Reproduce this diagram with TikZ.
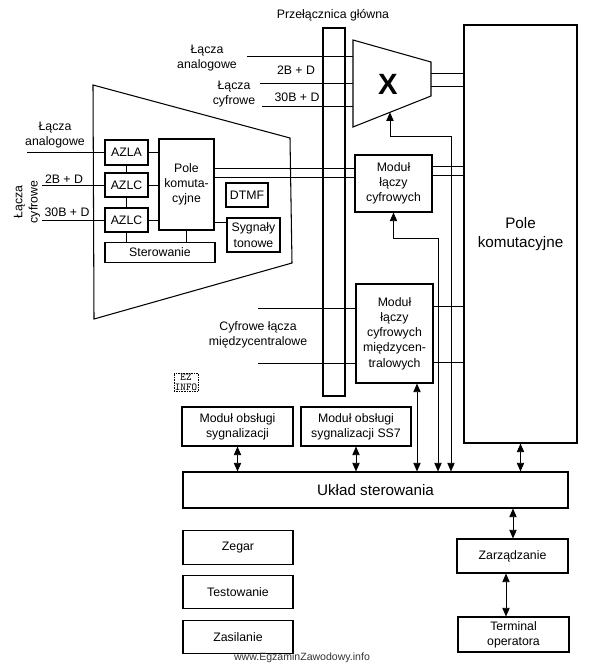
\documentclass[tikz,border=0pt]{standalone}
\usepackage{fontspec}
\setmainfont{Liberation Sans}
\usetikzlibrary{arrows.meta,calc}

\begin{document}
\begin{tikzpicture}[x=0.03cm,y=-0.03cm,
    box/.style={draw,line width=0.9pt,align=center,inner sep=1pt,font=\fontsize{10.5}{13}\selectfont},
    lbl/.style={align=center,inner sep=0pt,font=\fontsize{10.5}{13}\selectfont},
    wire/.style={line width=0.8pt},
    ctrl/.style={<->,line width=0.8pt,>={Triangle[length=2.6mm,width=2.2mm]}}]
    \useasboundingbox (0,0) rectangle (590,665);
    %koncentrator
    \draw[line width=0.9pt] (93,85) -- (290,138) -- (292,263) -- (94,319) -- cycle;
    \node[box,minimum width=1.29cm,minimum height=0.75cm] (azla) at (126.5,152.5) {AZLA};
    \node[box,minimum width=1.29cm,minimum height=0.72cm] (azlc1) at (126.5,185) {AZLC};
    \node[box,minimum width=1.29cm,minimum height=0.72cm] (azlc2) at (126.5,220) {AZLC};
    \node[box,minimum width=1.65cm,minimum height=2.73cm] (pole) at (186.5,184.5) {Pole\\komuta-\\cyjne};
    \node[box,minimum width=1.26cm,minimum height=0.72cm] (dtmf) at (247,195) {DTMF};
    \node[box,minimum width=1.59cm,minimum height=1.02cm] (tony) at (253.5,235) {Sygnały\\tonowe};
    \node[box,minimum width=3.3cm,minimum height=0.6cm] (ster) at (160,252.5) {Sterowanie};
    \draw[wire] (azla) -- (azlc1) -- (azlc2) -- (azlc2 |- ster.north);
    \draw[wire] (pole) -- (pole |- ster.north);
    \foreach \n in {azla,azlc1,azlc2}
      \draw[wire] (\n) -- (\n -| pole.west);
    \draw[line width=0.5pt,double,double distance=1.2pt] (dtmf) -- (dtmf -| pole.east);
    \coordinate (tony in) at ([yshift=0.39cm]tony.west);
    \draw[wire] (tony in) -- (tony in -| pole.east);
    \coordinate (ana1) at (27,152.5);
    \coordinate (isdn1) at (42,185);
    \coordinate (pcm1) at (42,220);
    \draw[wire] (ana1) -- (azla);
    \draw[wire] (isdn1) -- (azlc1);
    \draw[wire] (pcm1) -- (azlc2);
    \node[lbl] at (55,135) {Łącza\\analogowe};
    \node[lbl] at (64,179) {2B + D};
    \node[lbl] at (67,212) {30B + D};
    \node[lbl,rotate=90] at (27,202) {Łącza\\cyfrowe};
    %przelacznica i X
    \node[draw,line width=0.9pt,minimum width=0.66cm,minimum height=11.04cm,inner sep=0pt] (przel) at (334,212) {};
    \node[lbl] at (333,15) {Przełącznica główna};
    \draw[line width=0.9pt] (353,40) coordinate (x tl) -- (431,62) coordinate (x tr)
      -- (431,96) coordinate (x br) -- (353,127) coordinate (x bl) -- cycle;
    \node[font=\fontsize{25}{25}\selectfont\bfseries] (xsw) at (388,84) {X};
    \coordinate (ana2) at (247,56);
    \coordinate (isdn2) at (260,83);
    \coordinate (pcm2) at (262,106);
    \foreach \c in {ana2,isdn2,pcm2}
      \draw[wire] (\c) -- (\c -| x tl);
    \node[lbl] at (207,58) {Łącza\\analogowe};
    \node[lbl] at (296,70) {2B + D};
    \node[lbl] at (234,94) {Łącza\\cyfrowe};
    \node[lbl] at (297,97) {30B + D};
    %moduly i pole komutacyjne
    \node[box,minimum width=2.31cm,minimum height=1.71cm] (modc) at (393.5,183.5) {Moduł\\łączy\\cyfrowych};
    \node[box,minimum width=2.31cm,minimum height=2.97cm] (modm) at (394.5,333.5) {Moduł\\łączy\\cyfrowych\\międzycen-\\tralowych};
    \node[box,minimum width=3.39cm,minimum height=12.54cm,font=\fontsize{13}{15.5}\selectfont] (polebig) at (520.5,234) {Pole\\komutacyjne};
    \node[lbl] at (258,335) {Cyfrowe łącza\\międzycentralowe};
    \coordinate (pc1) at (0,168);
    \coordinate (pc2) at (0,177);
    \coordinate (xo1) at (431,73);
    \coordinate (xo2) at (431,86);
    \coordinate (co1) at (0,166);
    \coordinate (co2) at (0,175);
    \coordinate (mo1) at (0,306);
    \coordinate (mo2) at (0,362);
    \coordinate (mi1) at (258,308);
    \coordinate (mi2) at (258,363);
    \foreach \c in {pc1,pc2}
      \draw[wire] (\c -| pole.east) -- (\c -| modc.west);
    \foreach \c in {xo1,xo2}
      \draw[wire] (\c) -- (\c -| polebig.west);
    \foreach \c in {co1,co2}
      \draw[wire] (\c -| modc.east) -- (\c -| polebig.west);
    \foreach \c in {mo1,mo2}
      \draw[wire] (\c -| modm.east) -- (\c -| polebig.west);
    \foreach \c in {mi1,mi2}
      \draw[wire] (\c) -- (\c -| modm.west);
    %sterowanie
    \node[box,minimum width=3.33cm,minimum height=1.17cm] (mos) at (237.5,426.5) {Moduł obsługi\\sygnalizacji};
    \node[box,minimum width=3.3cm,minimum height=1.17cm] (mss7) at (356,426.5) {Moduł obsługi\\sygnalizacji SS7};
    \node[box,minimum width=11.55cm,minimum height=1.08cm,font=\fontsize{13}{15.5}\selectfont] (uklad) at (375.5,490) {Układ sterowania};
    \foreach \name/\txt/\y in {zegar/Zegar/547.5,test/Testowanie/592,zasil/Zasilanie/637}
      \node[box,minimum width=3.3cm,minimum height=1.01cm] (\name) at (238,\y) {\txt};
    \node[box,minimum width=3.33cm,minimum height=1.02cm] (zarz) at (512.5,556) {Zarządzanie};
    \node[box,minimum width=3.33cm,minimum height=1.05cm] (term) at (513.5,634.5) {Terminal\\operatora};
    \coordinate (xc) at ($(x bl)!0.474!(x br)$);
    \coordinate (xb) at (451,136);
    \coordinate (cb) at (438,238);
    \coordinate (mc) at (417,0);
    \coordinate (zu) at (513,0);
    \coordinate (zt) at (506,0);
    \draw[ctrl] (xc) |- (xb) -- (xb |- uklad.north);
    \draw[ctrl] (modc.south) |- (cb) -- (cb |- uklad.north);
    \draw[ctrl] (mc |- modm.south) -- (mc |- uklad.north);
    \draw[ctrl] (mos) -- (mos |- uklad.north);
    \draw[ctrl] (mss7) -- (mss7 |- uklad.north);
    \draw[ctrl] (polebig) -- (polebig |- uklad.north);
    \draw[ctrl] (zu |- uklad.south) -- (zu |- zarz.north);
    \draw[ctrl] (zt |- zarz.south) -- (zt |- term.north);
    \node[draw,densely dotted,line width=0.4pt,inner sep=0.8pt,align=center,font=\fontsize{9}{8.5}\selectfont\ttfamily] (ez) at (186,382) {EZ\\INFO};
    \node[font=\fontsize{9}{9}\selectfont,text=black!80] (www) at (302,658) {www.EgzaminZawodowy.info};
\end{tikzpicture}
\end{document}
